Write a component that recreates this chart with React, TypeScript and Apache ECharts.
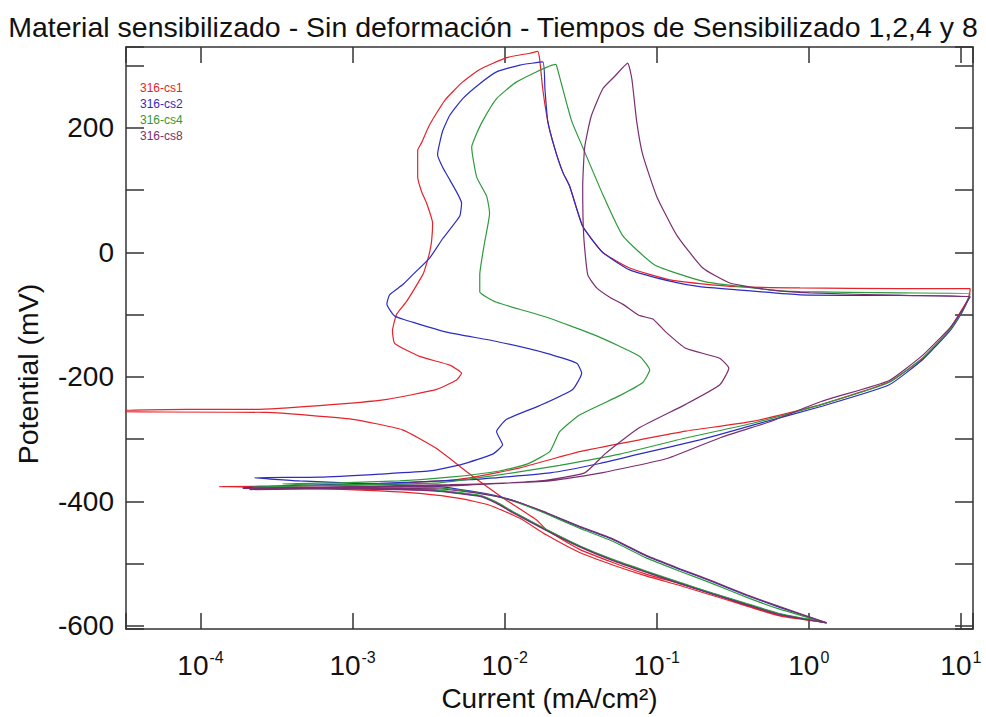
import React, { useEffect, useRef } from "react";
import * as echarts from "echarts";

const FONT = '"Liberation Sans", Arial, Helvetica, sans-serif';
const TITLE = "Material sensibilizado - Sin deformación - Tiempos de Sensibilizado 1,2,4 y 8";
const X_NAME = "Current (mA/cm²)";
const Y_NAME = "Potential (mV)";

const seriesNames = ["316-cs1", "316-cs2", "316-cs4", "316-cs8"];
const seriesColors = ["#e5232b", "#2b2dc2", "#2e9a3c", "#7a2e70"];

// x-axis (current, mA/cm², log) and y-axis (potential, mV) extents
const xMin = 3.236e-5;
const xMax = 12.02;
const yMin = -605;
const yMax = 330;
const yLabelStep = 200;

// [current (mA/cm²), potential (mV)]
const cs1: [number, number][] = [
  [1.31, -595], [0.644, -584], [0.391, -568], [0.233, -551], [0.142, -535], [0.0859, -520], [0.0514, -502],
  [0.0311, -482], [0.0189, -454], [0.0126, -427], [0.00796, -406], [0.00506, -395], [0.00276, -387],
  [0.00151, -383], [0.000706, -380], [0.000331, -378], [0.000133, -376],
  [0.000448, -375], [0.00151, -372], [0.00373, -367], [0.00589, -362], [0.0126, -346], [0.0311, -320],
  [0.0773, -301], [0.155, -287], [0.435, -271], [1.22, -244], [3.36, -208], [5.62, -170], [8.47, -123],
  [10.2, -91], [11.1, -76], [11.5, -61], [11.5, -58],
  [3.97, -58], [0.873, -57], [0.336, -55], [0.192, -50], [0.122, -44], [0.0664, -25], [0.0442, 0],
  [0.0326, 42], [0.0268, 106], [0.0241, 129], [0.0213, 168], [0.0192, 211], [0.0178, 263], [0.017, 310],
  [0.0165, 323],
  [0.0146, 320], [0.0103, 313], [0.00686, 294], [0.0053, 274], [0.00403, 244], [0.00321, 205],
  [0.00284, 176], [0.00268, 164], [0.00268, 121], [0.00284, 98], [0.00307, 79], [0.00336, 47],
  [0.00331, 19], [0.00321, 0], [0.00298, -28], [0.00289, -36], [0.00226, -79], [0.00195, -99],
  [0.00183, -126], [0.00189, -146], [0.00276, -167], [0.00435, -181], [0.00521, -194], [0.00483, -205],
  [0.00357, -220], [0.00168, -236], [0.000607, -246], [0.00022, -252], [0.000081, -252], [0.000028, -254],
  [0.000028, -256], [0.000272, -257], [0.001, -268], [0.00213, -285], [0.00357, -315], [0.00589, -356],
  [0.0097, -394], [0.0163, -430], [0.0189, -446], [0.0311, -477], [0.0514, -498], [0.0859, -517],
  [0.142, -532], [0.233, -548], [0.391, -567], [0.644, -583], [1.31, -595],
];

const cs2: [number, number][] = [
  [1.31, -595], [0.644, -581], [0.391, -565], [0.233, -548], [0.142, -531], [0.0859, -513], [0.0514, -494],
  [0.0311, -472], [0.0189, -446], [0.0113, -417], [0.00885, -402], [0.00686, -391], [0.00373, -383],
  [0.00204, -380], [0.000955, -379], [0.00019, -378],
  [0.000448, -374], [0.00151, -371], [0.00589, -365], [0.0199, -354], [0.0422, -339], [0.0762, -324],
  [0.192, -301], [0.435, -277], [1.22, -247], [3.36, -213], [5.62, -172], [8.47, -126], [10.2, -96],
  [11.1, -78], [11.5, -71],
  [3.97, -69], [0.873, -68], [0.336, -60], [0.192, -55], [0.122, -46], [0.0664, -28], [0.0442, 0],
  [0.0326, 42], [0.0268, 106], [0.0241, 129], [0.0213, 168], [0.0192, 211], [0.0184, 263], [0.0178, 306],
  [0.0126, 301], [0.00885, 290], [0.00686, 271], [0.0053, 247], [0.00435, 220], [0.00391, 195],
  [0.00362, 157], [0.00391, 137], [0.00435, 117], [0.00521, 79], [0.00506, 58], [0.00391, 22],
  [0.00321, -9], [0.00248, -36], [0.00213, -52], [0.00175, -68], [0.00168, -83], [0.00189, -102],
  [0.00248, -112], [0.00415, -128], [0.00885, -143], [0.0189, -162], [0.0298, -178], [0.0321, -194],
  [0.028, -220], [0.017, -246], [0.0103, -268], [0.00885, -288], [0.0097, -309], [0.00834, -324],
  [0.0053, -340], [0.00321, -351], [0.00151, -356], [0.000607, -361], [0.000226, -362],
  [0.000448, -367], [0.00151, -372], [0.00373, -376], [0.00589, -383], [0.00885, -391], [0.0126, -402],
  [0.0189, -419], [0.0311, -441], [0.0514, -461], [0.0859, -488], [0.142, -509], [0.233, -529],
  [0.391, -551], [0.644, -570], [1.31, -595],
];

const cs4: [number, number][] = [
  [1.28, -594], [0.644, -580], [0.391, -564], [0.233, -547], [0.142, -530], [0.0859, -512], [0.0514, -493],
  [0.0311, -471], [0.0189, -445], [0.0113, -416], [0.00885, -401], [0.00686, -390], [0.00373, -382],
  [0.00204, -379], [0.000955, -378], [0.00022, -377],
  [0.000955, -373], [0.00373, -370], [0.0094, -357], [0.023, -342], [0.0571, -324], [0.155, -298],
  [0.435, -274], [1.22, -244], [3.36, -209], [5.62, -169], [8.47, -124], [10.2, -94], [11.1, -76],
  [11.5, -66],
  [3.97, -65], [0.873, -63], [0.553, -60], [0.207, -47], [0.097, -20], [0.0597, 27], [0.0442, 93],
  [0.0326, 169], [0.0276, 211], [0.0241, 263], [0.0223, 294], [0.0217, 302],
  [0.012, 274], [0.00885, 247], [0.00716, 211], [0.00636, 184], [0.00607, 169], [0.00655, 121],
  [0.00762, 90], [0.00796, 63], [0.00738, 16], [0.00686, -36], [0.00686, -63], [0.00885, -80],
  [0.0189, -104], [0.0403, -134], [0.0773, -167], [0.0899, -189], [0.0809, -209], [0.0571, -230],
  [0.0311, -261], [0.023, -288], [0.0198, -320], [0.014, -340], [0.00927, -351], [0.00435, -361],
  [0.00204, -367], [0.00082, -370], [0.000346, -372],
  [0.000955, -375], [0.00373, -378], [0.00589, -384], [0.00885, -392], [0.0126, -403], [0.0189, -420],
  [0.0311, -443], [0.0514, -464], [0.0859, -491], [0.142, -512], [0.233, -532], [0.391, -554],
  [0.644, -573], [1.25, -594],
];

const cs8: [number, number][] = [
  [1.31, -595], [0.644, -582], [0.391, -566], [0.233, -549], [0.142, -532], [0.0859, -514], [0.0514, -495],
  [0.0311, -473], [0.0189, -447], [0.0113, -418], [0.00885, -403], [0.00686, -392], [0.00373, -384],
  [0.00204, -381], [0.000955, -380], [0.00019, -379],
  [0.000955, -376], [0.00435, -373], [0.0198, -367], [0.0433, -354], [0.117, -331], [0.259, -298],
  [0.553, -272], [1.22, -239], [3.36, -206], [5.62, -165], [8.47, -121], [10.2, -93], [11.1, -77],
  [11.5, -71],
  [3.97, -69], [1.02, -65], [0.553, -60], [0.302, -49], [0.201, -25], [0.136, 27], [0.1, 90],
  [0.0809, 157], [0.0738, 211], [0.0686, 279], [0.0644, 304],
  [0.053, 283], [0.0442, 263], [0.037, 218], [0.0336, 169], [0.0326, 106], [0.0331, 27], [0.0352, -36],
  [0.0403, -57], [0.0491, -72], [0.0597, -83], [0.0762, -101], [0.0942, -107], [0.115, -128],
  [0.155, -154], [0.259, -170], [0.298, -186], [0.259, -213], [0.155, -244], [0.0762, -282],
  [0.0455, -324], [0.0336, -354], [0.017, -367], [0.00435, -375], [0.000955, -378], [0.00021, -381],
  [0.00151, -379], [0.00373, -380], [0.00589, -385], [0.00885, -392], [0.0126, -402], [0.0189, -418],
  [0.0311, -440], [0.0514, -460], [0.0859, -487], [0.142, -508], [0.233, -528], [0.391, -550],
  [0.644, -569], [1.31, -595],
];

const seriesData = [cs1, cs2, cs4, cs8];

const AXIS_COLOR = "#333333";
const TEXT_COLOR = "#111";

function xLabel(v: number): string {
  const e = Math.log10(v);
  const r = Math.round(e);
  if (Math.abs(e - r) > 1e-6) return "";
  return `{b|10}{s|${r}}`;
}

function yLabel(v: number): string {
  return Math.abs(v % yLabelStep) < 1e-9 ? String(v) : "";
}

export default function App() {
  const ref = useRef<HTMLDivElement>(null);

  useEffect(() => {
    if (!ref.current) return;
    const chart = echarts.init(ref.current, undefined, { renderer: "svg" });
    const axisLine = { show: true, onZero: false, lineStyle: { color: AXIS_COLOR, width: 1.5 } };
    const tick = (len: number) => ({ show: true, inside: true, length: len, lineStyle: { color: AXIS_COLOR, width: 1.5 } });
    const minor = { show: true, splitNumber: 2, length: 18, lineStyle: { color: AXIS_COLOR, width: 1.5 } };

    chart.setOption({
      animation: false,
      backgroundColor: "#ffffff",
      title: {
        text: TITLE,
        left: "center",
        top: 7,
        textStyle: { fontSize: 28.5, fontWeight: "normal", fontFamily: FONT, color: TEXT_COLOR },
      },
      legend: {
        orient: "vertical",
        left: 130,
        top: 76,
        itemGap: 3,
        itemWidth: 0,
        itemHeight: 14,
        icon: "none",
        selectedMode: false,
        textStyle: { fontSize: 12, fontFamily: FONT },
        data: seriesNames.map((n, i) => ({ name: n, textStyle: { color: seriesColors[i] } })),
      },
      grid: { left: 126, right: 13, top: 47, bottom: 75.5, containLabel: false },
      xAxis: [
        {
          type: "log",
          logBase: 10,
          min: xMin,
          max: xMax,
          position: "bottom",
          name: X_NAME,
          nameLocation: "middle",
          nameGap: 45,
          nameTextStyle: { fontSize: 28, fontFamily: FONT, color: TEXT_COLOR },
          axisLine,
          axisTick: tick(16),
          minorTick: { show: false },
          splitLine: { show: false },
          axisLabel: {
            margin: 20,
            formatter: xLabel,
            color: TEXT_COLOR,
            rich: {
              b: { fontSize: 28, fontFamily: FONT, color: TEXT_COLOR, lineHeight: 30, verticalAlign: "bottom" },
              s: { fontSize: 16, fontFamily: FONT, color: TEXT_COLOR, lineHeight: 16, verticalAlign: "top", padding: [0, 0, 0, 1] },
            },
          },
        },
        {
          type: "log",
          logBase: 10,
          min: xMin,
          max: xMax,
          position: "top",
          axisLine,
          axisTick: tick(16),
          splitLine: { show: false },
          axisLabel: { show: false },
        },
      ],
      yAxis: [
        {
          type: "value",
          min: yMin,
          max: yMax,
          splitNumber: 5,
          position: "left",
          axisLine,
          axisTick: tick(18),
          minorTick: minor,
          splitLine: { show: false },
          minorSplitLine: { show: false },
          axisLabel: { formatter: yLabel, fontSize: 28, fontFamily: FONT, color: TEXT_COLOR, margin: 12, showMinLabel: true, showMaxLabel: true },
        },
        {
          type: "value",
          min: yMin,
          max: yMax,
          splitNumber: 5,
          position: "right",
          axisLine,
          axisTick: tick(18),
          minorTick: minor,
          splitLine: { show: false },
          minorSplitLine: { show: false },
          axisLabel: { show: false },
        },
      ],
      graphic: [
        {
          type: "text",
          x: 28,
          y: 374,
          rotation: Math.PI / 2,
          style: {
            text: Y_NAME,
            fontSize: 28.5,
            fontFamily: FONT,
            fill: TEXT_COLOR,
            align: "center",
            verticalAlign: "middle",
          },
        },
      ],
      series: seriesNames.map((n, i) => ({
        name: n,
        type: "line",
        data: seriesData[i],
        xAxisIndex: 0,
        yAxisIndex: 0,
        showSymbol: false,
        symbol: "none",
        smooth: 0.15,
        clip: true,
        lineStyle: { width: 1.2, color: seriesColors[i] },
        itemStyle: { color: seriesColors[i] },
        emphasis: { disabled: true },
      })),
    });
    return () => chart.dispose();
  }, []);

  return <div ref={ref} style={{ position: "absolute", left: 0, top: 0, width: 986, height: 717 }} />;
}
